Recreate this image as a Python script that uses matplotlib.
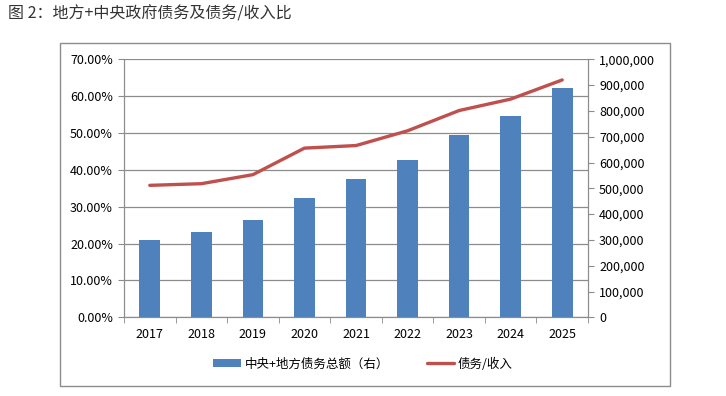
import matplotlib.pyplot as plt
import matplotlib.ticker as mticker
from matplotlib.patches import Rectangle

plt.rcParams['font.family'] = ['Noto Sans CJK SC', 'DejaVu Sans']

years = ['2017', '2018', '2019', '2020', '2021', '2022', '2023', '2024', '2025']
debt_total = [298000, 331000, 378000, 464000, 536000, 610000, 707000, 780000, 889000]
debt_ratio = [0.358, 0.3625, 0.387, 0.459, 0.466, 0.506, 0.561, 0.592, 0.644]

fig = plt.figure(figsize=(7.26, 3.96), dpi=100)
fig.text(0.011, 0.965, '图 2：地方+中央政府债务及债务/收入比', fontsize=11.5,
         color='#333333', va='center', ha='left')

# outer chart frame
fig.patches.append(Rectangle((60 / 726, 1 - 386 / 396), 610 / 726, 343 / 396,
                             transform=fig.transFigure, fill=False,
                             edgecolor='#8c8c8c', linewidth=1))

ax = fig.add_axes([124 / 726, 1 - 317.3 / 396, 464 / 726, 258 / 396])
ax2 = ax.twinx()

x = list(range(len(years)))
bars = ax2.bar(x, debt_total, width=0.4, color='#4F81BD', zorder=3,
               label='中央+地方债务总额（右）')
line, = ax.plot(x, debt_ratio, color='#C0504D', linewidth=2.4, zorder=4,
                solid_capstyle='round', label='债务/收入')
ax.set_zorder(ax2.get_zorder() + 1)
ax.patch.set_visible(False)

ax.set_xlim(-0.5, len(years) - 0.5)
ax.set_ylim(0, 0.7)
ax2.set_ylim(0, 1000000)
left_ticks = [i / 10 for i in range(8)]
ax.set_yticks(left_ticks)
ax.yaxis.set_major_formatter(mticker.FuncFormatter(lambda v, p: f'{v * 100:.2f}%'))
ax2.set_yticks(range(0, 1000001, 100000))
ax2.yaxis.set_major_formatter(mticker.FuncFormatter(lambda v, p: f'{int(v):,}'))

# gridlines follow the left axis, drawn behind the bars
for v in left_ticks:
    ax2.axhline(v / 0.7 * 1000000, color='#8c8c8c', linewidth=0.9, zorder=1)

ax.set_xticks(x)
ax.set_xticklabels(years)
ax.set_xticks([i - 0.5 for i in range(len(years) + 1)], minor=True)
ax.tick_params(axis='x', which='major', length=0, pad=8, labelsize=9)
ax.tick_params(axis='x', which='minor', length=4, color='#8c8c8c')
ax.tick_params(axis='y', length=4, color='#8c8c8c', labelsize=9, pad=4)
ax2.tick_params(axis='y', length=4, color='#8c8c8c', labelsize=9, pad=4)

for a in (ax, ax2):
    a.spines['top'].set_visible(False)
    for s in ('left', 'right', 'bottom'):
        a.spines[s].set_color('#8c8c8c')

fig.legend(handles=[bars, line], loc='center', bbox_to_anchor=(0.5, 1 - 364 / 396),
           ncol=2, frameon=False, fontsize=9, handlelength=2.2,
           handleheight=0.6, columnspacing=3, handletextpad=0.3)

fig.savefig('out.png', dpi=100)
